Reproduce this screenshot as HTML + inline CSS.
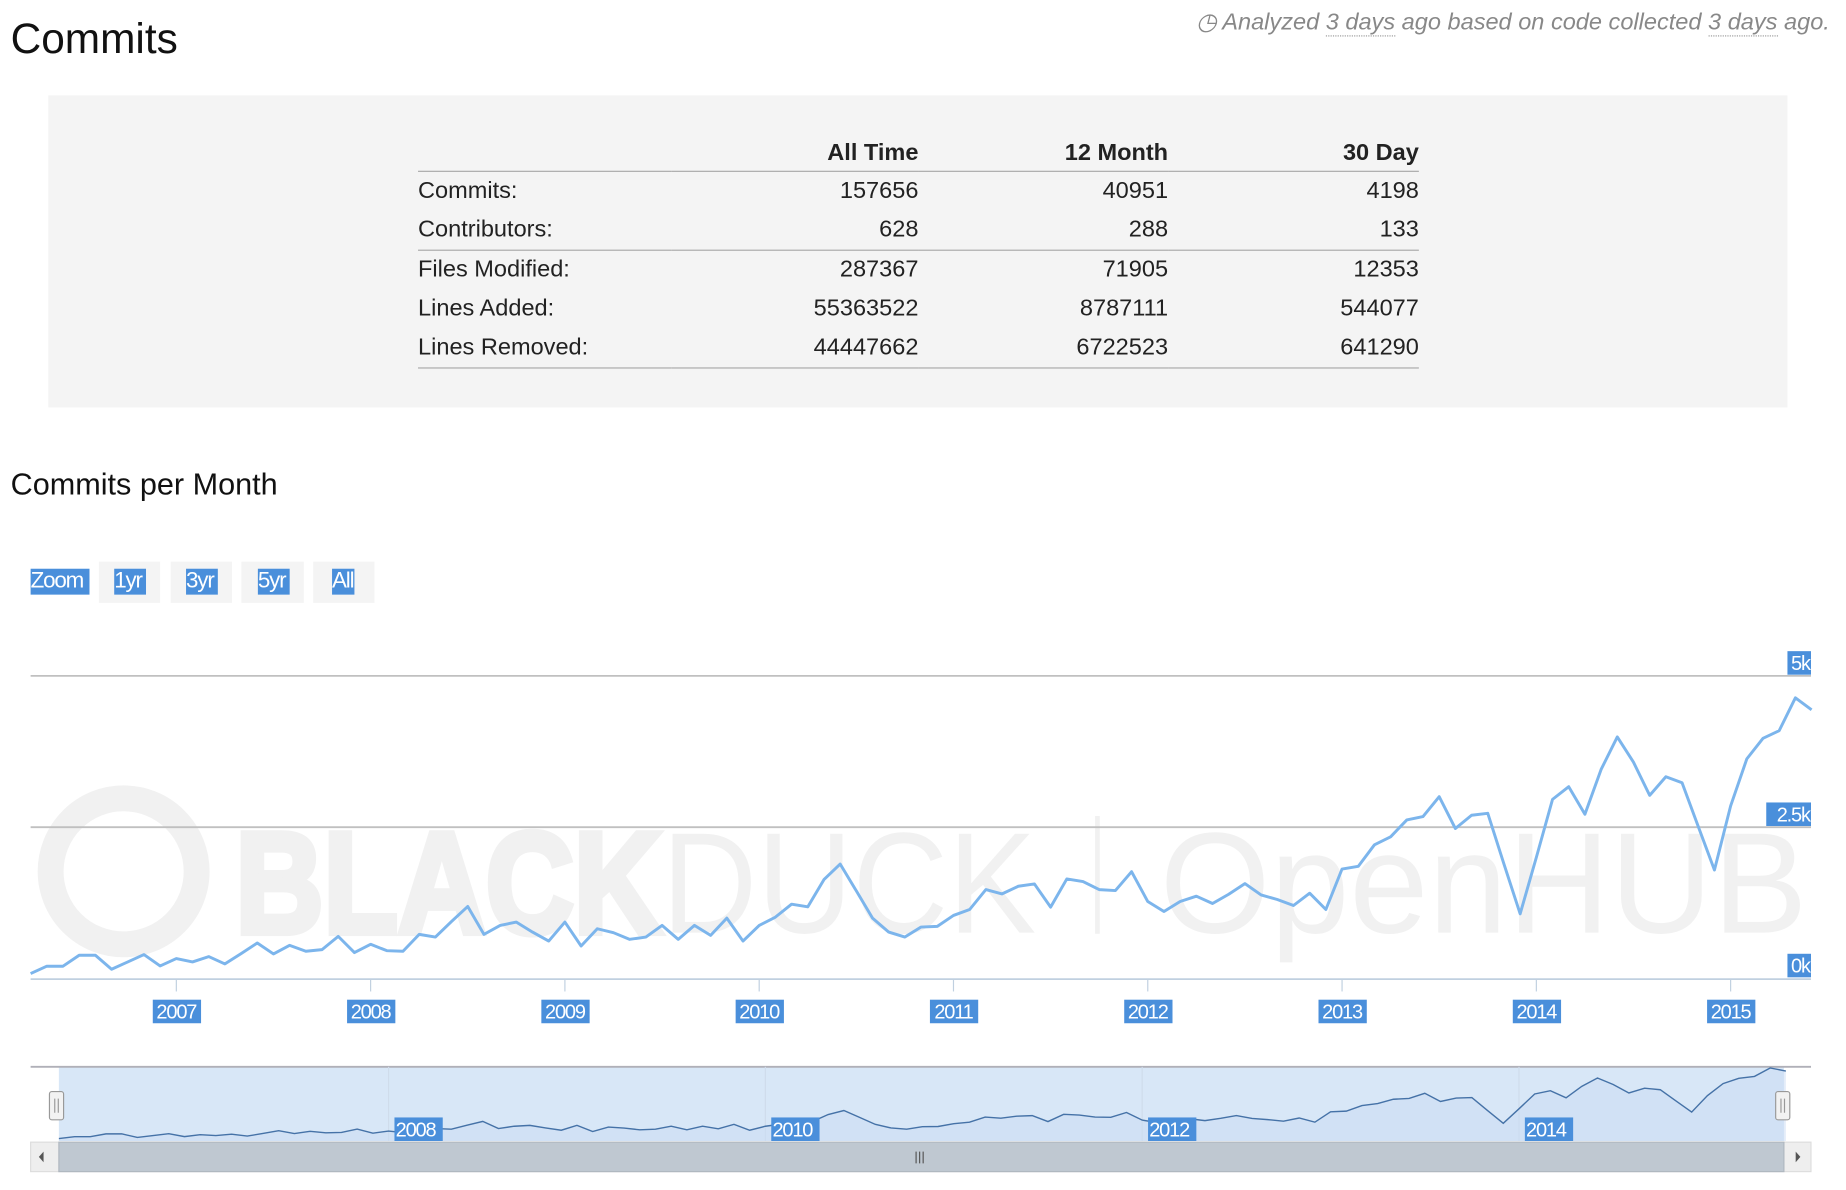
<!DOCTYPE html>
<html><head><meta charset="utf-8">
<style>
html,body{margin:0;padding:0;background:#fff;}
body{width:1846px;height:1190px;overflow:hidden;font-family:"Liberation Sans",sans-serif;}
#frame{position:absolute;left:0;top:0;width:1568px;height:1011px;transform:scale(1.1775);transform-origin:0 0;}
.abs{position:absolute;}
h1{position:absolute;left:9px;top:12px;margin:0;font-weight:normal;font-size:36px;color:#111;}
#analyzed{position:absolute;right:14px;top:6px;font-style:italic;color:#888;font-size:20px;}
#analyzed span{border-bottom:1px dotted #999;}
#box{position:absolute;left:41px;top:81px;width:1477px;height:265px;background:#f4f4f4;}
table{position:absolute;left:314px;top:34px;border-collapse:collapse;font-size:20px;color:#222;}
td,th{padding:0;height:33px;}
th{font-weight:bold;text-align:right;height:30px;}
td.num{text-align:right;}
h2{position:absolute;left:9px;top:396px;margin:0;font-weight:normal;font-size:26px;color:#111;}
.btn{position:absolute;top:477px;height:35px;background:#f4f4f4;}
.hl{background:#4a8fdb;color:#fff;font-size:19px;line-height:22px;position:absolute;top:483px;letter-spacing:-1px;}
</style></head><body>
<div id="frame">
<h1>Commits</h1>
<div id="analyzed">&#9719; Analyzed <span>3 days</span> ago based on code collected <span>3 days</span> ago.</div>
<div id="box">
<table>
<tr style="border-bottom:1px solid #aaa"><th style="width:215px"></th><th style="width:210px">All Time</th><th style="width:212px">12 Month</th><th style="width:213px">30 Day</th></tr>
<tr><td>Commits:</td><td class="num">157656</td><td class="num">40951</td><td class="num">4198</td></tr>
<tr style="border-bottom:1px solid #aaa"><td>Contributors:</td><td class="num">628</td><td class="num">288</td><td class="num">133</td></tr>
<tr><td>Files Modified:</td><td class="num">287367</td><td class="num">71905</td><td class="num">12353</td></tr>
<tr><td>Lines Added:</td><td class="num">55363522</td><td class="num">8787111</td><td class="num">544077</td></tr>
<tr style="border-bottom:1px solid #aaa"><td>Lines Removed:</td><td class="num">44447662</td><td class="num">6722523</td><td class="num">641290</td></tr>
</table></div>
<h2>Commits per Month</h2>
<div class="btn" style="left:84px;width:52px"></div>
<div class="btn" style="left:145px;width:52px"></div>
<div class="btn" style="left:205px;width:53px"></div>
<div class="btn" style="left:266px;width:52px"></div>
<div class="hl" style="left:26px;width:50px">Zoom</div>
<div class="hl" style="left:97px;width:27px">1yr</div>
<div class="hl" style="left:158px;width:27px">3yr</div>
<div class="hl" style="left:219px;width:27px">5yr</div>
<div class="hl" style="left:282px;width:19px">All</div>
<svg id="chart" class="abs" style="left:0;top:0" width="1568" height="1011">
<g id="wm" fill="#f1f1f1">
<circle cx="105" cy="740" r="62" fill="none" stroke="#f1f1f1" stroke-width="22"/>
<text x="200" y="792" font-size="122" font-weight="900" stroke="#f1f1f1" stroke-width="6" textLength="362" lengthAdjust="spacingAndGlyphs">BLACK</text>
<text x="562" y="792" font-size="122" textLength="318" lengthAdjust="spacingAndGlyphs">DUCK</text>
<rect x="930" y="693" width="4" height="100"/>
<text x="985" y="792" font-size="122" textLength="550" lengthAdjust="spacingAndGlyphs">OpenHUB</text>
</g>
<g id="main"></g>
<g id="nav"></g>
</svg>
</div>
<script>
const startYear = 2006, startMonth = 3; // April 2006 (0-based month)
const yearTicks = [2007,2008,2009,2010,2011,2012,2013,2014,2015];
const navYearTicks = [2008,2010,2012,2014];
const yTicks = [0,2500,5000];
const yTickLabels = ["0k","2.5k","5k"];
const commits = [82,203,203,384,384,153,274,395,208,329,274,362,241,411,587,406,548,450,477,696,428,565,460,450,729,685,943,1190,729,877,932,767,619,932,537,822,757,647,685,877,647,877,713,998,619,877,1014,1228,1184,1634,1891,1447,998,767,685,850,
861,1042,1140,1469,1398,1524,1562,1179,1645,1601,1469,1453,1765,1272,1107,1272,1360,1239,1392,1568,1381,1305,1206,1409,1140,1809,1853,2209,2341,2620,2675,3004,2478,2697,2730,1891,1069,2001,2960,3169,2714,3454,3991,3574,3026,3333,3234,2511,1793,2851,3629,3969,4095,4638,4440];

const NS="http://www.w3.org/2000/svg";
function mk(tag,attrs,parent){const e=document.createElementNS(NS,tag);for(const k in attrs)e.setAttribute(k,attrs[k]);parent.appendChild(e);return e;}
const monthsFrom = (y,m)=> (y-startYear)*12 + (m-startMonth);
const x = i => 26 + i*13.75;
const y = v => 831 - v*(257/5000);
const nx = i => 50 + i*(160/12);
const ny = v => 968 - v*(61/4638);
const main=document.getElementById('main'), nav=document.getElementById('nav');

yTicks.forEach((t,k)=>{
  if(t>0){const g=mk('line',{x1:26,x2:1538,y1:y(t),y2:y(t),stroke:'#c0c0c0','stroke-width':1.5},main);
  
  }
  const w = yTickLabels[k].length*9+2;
  const r=mk('rect',{x:1538-w,y:y(t)-21,width:w,height:20,fill:'#4a8fdb'},main);
  
  
  const tx=mk('text',{x:1537,y:y(t)-5,'text-anchor':'end','font-size':17,fill:'#fff','letter-spacing':-1},main);
  tx.textContent=yTickLabels[k];
  
  
});
const ax=mk('line',{x1:26,x2:1538,y1:831.5,y2:831.5,stroke:'#c0d0e0','stroke-width':1.5},main);


yearTicks.forEach(yr=>{
  const xx=x(monthsFrom(yr,0));
  const l=mk('line',{x1:xx,x2:xx,y1:832,y2:842,stroke:'#c0d0e0'},main);
  
  
  const r=mk('rect',{x:xx-20,y:849,width:41,height:20,fill:'#4a8fdb'},main);
  
  
  const t=mk('text',{x:xx,y:865,'text-anchor':'middle','font-size':17,fill:'#fff','letter-spacing':-1},main);
  t.textContent=yr;
  
  
});
const line=mk('polyline',{points:commits.map((v,i)=>x(i)+','+y(v)).join(' '),fill:'none',stroke:'#7cb5ec','stroke-width':2.5,'stroke-linejoin':'round'},main);



const nb=mk('rect',{x:50,y:906,width:1465,height:63,fill:'#d8e7f7'},nav);


const nt=mk('line',{x1:26,x2:1538,y1:906,y2:906,stroke:'#b0b0b8','stroke-width':1.5},nav);


navYearTicks.forEach(yr=>{
  const xx=nx(monthsFrom(yr,0));
  const l=mk('line',{x1:xx,x2:xx,y1:906,y2:969,stroke:'#cfdceb'},nav);
  
  
});
const area=mk('polygon',{points:nx(0)+',969 '+commits.map((v,i)=>nx(i)+','+ny(v)).join(' ')+' '+nx(commits.length-1)+',969',fill:'#c9dcf3',opacity:0.5},nav);


const nl=mk('polyline',{points:commits.map((v,i)=>nx(i)+','+ny(v)).join(' '),fill:'none',stroke:'#4572a7','stroke-width':1.2},nav);


navYearTicks.forEach(yr=>{
  const xx=nx(monthsFrom(yr,0));
  const r=mk('rect',{x:xx+5,y:949,width:41,height:20,fill:'#4a8fdb'},nav);
  
  
  const t=mk('text',{x:xx+6,y:965,'font-size':17,fill:'#fff','letter-spacing':-1},nav);
  t.textContent=yr;
  
  
});
[48,1514].forEach((hx,k)=>{
  const h=mk('rect',{x:hx-6,y:927,width:12,height:24,rx:2,fill:'#f2f2f2',stroke:'#999'},nav);
  
  
  mk('line',{x1:hx-1.5,x2:hx-1.5,y1:933,y2:945,stroke:'#999'},nav);
  mk('line',{x1:hx+1.5,x2:hx+1.5,y1:933,y2:945,stroke:'#999'},nav);
});
const sb=mk('rect',{x:26,y:970,width:1512,height:25,fill:'#eeeeee',stroke:'#ddd'},nav);


const th=mk('rect',{x:50,y:970,width:1465,height:25,fill:'#bfc8d1',stroke:'#b0b8c0'},nav);


[778,781,784].forEach(g=>mk('line',{x1:g,x2:g,y1:978,y2:988,stroke:'#555'},nav));
const la=mk('path',{d:'M37,978 L33,982.5 L37,987 Z',fill:'#555'},nav);


const ra=mk('path',{d:'M1525,978 L1529,982.5 L1525,987 Z',fill:'#555'},nav);


</script>
</body></html>
